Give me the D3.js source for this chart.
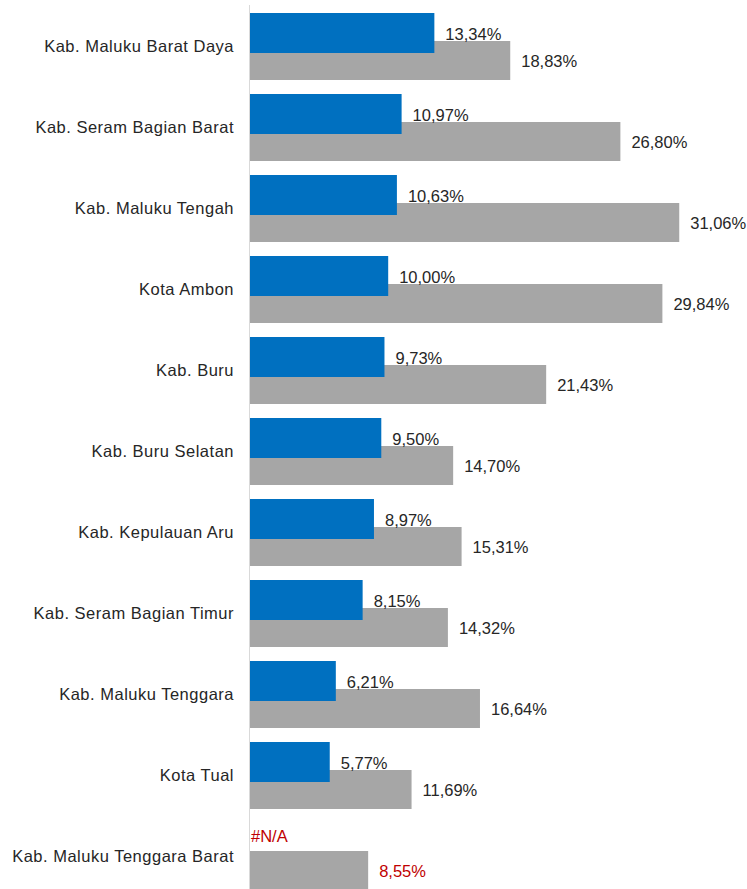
<!DOCTYPE html>
<html>
<head>
<meta charset="utf-8">
<script src="https://cdn.jsdelivr.net/npm/d3@7"></script>
<style>
  html, body { margin: 0; padding: 0; background: #fff; }
  svg { display: block; font-family: "Liberation Sans", Arial, sans-serif; }
</style>
</head>
<body>
<svg id="chart" width="747" height="889"></svg>
<script>
const categories = [
  "Kab. Maluku Barat Daya",
  "Kab. Seram Bagian Barat",
  "Kab. Maluku Tengah",
  "Kota Ambon",
  "Kab. Buru",
  "Kab. Buru Selatan",
  "Kab. Kepulauan Aru",
  "Kab. Seram Bagian Timur",
  "Kab. Maluku Tenggara",
  "Kota Tual",
  "Kab. Maluku Tenggara Barat"
];
const seriesBlue = [13.34, 10.97, 10.63, 10.00, 9.73, 9.50, 8.97, 8.15, 6.21, 5.77, null];
const seriesGray = [18.83, 26.80, 31.06, 29.84, 21.43, 14.70, 15.31, 14.32, 16.64, 11.69, 8.55];

const svg = d3.select("#chart");
const x0 = 250;
const x = d3.scaleLinear().domain([0, 35]).range([x0, x0 + 483.7]);
const pIn = 14 / 81;
const y = d3.scaleBand().domain(categories).range([6, 897]).paddingInner(pIn).paddingOuter(pIn / 2);
const bw = y.bandwidth();
const blueH = bw * 40 / 67;
const grayOff = bw * 28 / 67;
const grayH = bw * 39 / 67;

const fmt = v => d3.format(".2f")(v).replace(".", ",") + "%";
const textColor = "#262626";
const red = "#C00000";

const rows = categories.map((c, i) => ({ c, b: seriesBlue[i], g: seriesGray[i] }));

// gray bars
svg.append("g").selectAll("rect").data(rows).join("rect")
  .attr("x", x(0))
  .attr("y", d => y(d.c) + grayOff)
  .attr("width", d => x(d.g) - x(0))
  .attr("height", grayH)
  .attr("fill", "#A6A6A6");

// blue bars
svg.append("g").selectAll("rect").data(rows.filter(d => d.b != null)).join("rect")
  .attr("x", x(0))
  .attr("y", d => y(d.c))
  .attr("width", d => x(d.b) - x(0))
  .attr("height", blueH)
  .attr("fill", "#0070C0");

// axis line
svg.append("line")
  .attr("x1", x0 - 0.5).attr("x2", x0 - 0.5)
  .attr("y1", 5).attr("y2", 889)
  .attr("stroke", "#D9D9D9").attr("stroke-width", 1);

// category labels
const yAxis = d3.axisLeft(y).tickSize(0).tickPadding(16);
const ax = svg.append("g").attr("transform", `translate(${x0},0)`).call(yAxis);
ax.select(".domain").remove();
ax.selectAll("text")
  .attr("font-size", 16.5)
  .attr("letter-spacing", 0.5)
  .attr("font-family", '"Liberation Sans", Arial, sans-serif')
  .attr("fill", textColor);

// blue labels
svg.append("g").selectAll("text").data(rows).join("text")
  .attr("x", d => d.b != null ? x(d.b) + 11 : x(0) + 1)
  .attr("y", d => y(d.c) + blueH / 2 + (d.b != null ? 1 : -7))
  .attr("dy", "0.35em")
  .attr("font-size", 16.5)
  .attr("fill", d => d.b != null ? textColor : red)
  .text(d => d.b != null ? fmt(d.b) : "#N/A");

// gray labels
svg.append("g").selectAll("text").data(rows).join("text")
  .attr("x", d => x(d.g) + 11)
  .attr("y", d => y(d.c) + grayOff + grayH / 2 + 1)
  .attr("dy", "0.35em")
  .attr("font-size", 16.5)
  .attr("fill", d => d.b != null ? textColor : red)
  .text(d => fmt(d.g));
</script>
</body>
</html>
